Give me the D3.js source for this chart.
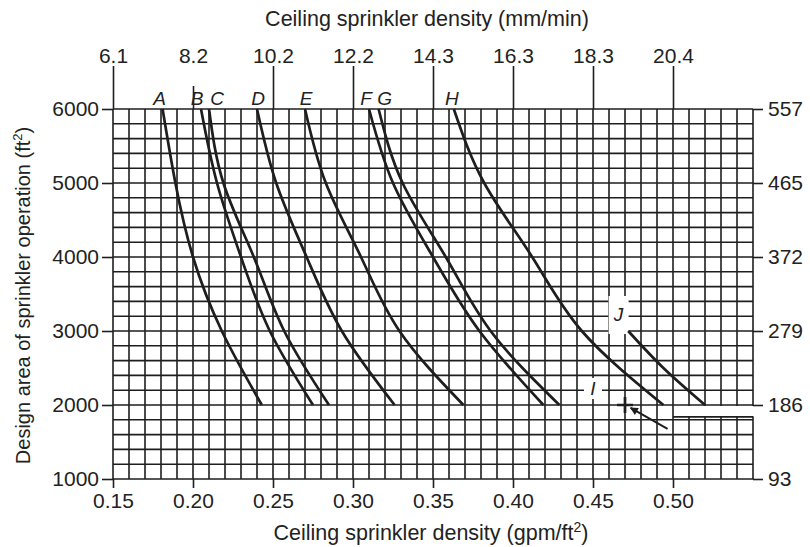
<!DOCTYPE html>
<html>
<head>
<meta charset="utf-8">
<script src="https://cdn.jsdelivr.net/npm/d3@7"></script>
<style>
  body { margin: 0; background: #fff; }
  svg text { font-family: "Liberation Sans", Arial, sans-serif; fill: #222; }
</style>
</head>
<body>
<svg id="chart" width="810" height="547"></svg>
<script>
// values
const curveNames = ["A", "B", "C", "D", "E", "F", "G", "H"];
const areaLevels = [6000, 5000, 4000, 3000, 2000];
const densityA = [0.181, 0.189, 0.200, 0.218, 0.243];
const densityB = [0.205, 0.215, 0.230, 0.248, 0.275];
const densityC = [0.210, 0.219, 0.238, 0.257, 0.285];
const densityD = [0.240, 0.252, 0.271, 0.293, 0.326];
const densityE = [0.270, 0.283, 0.305, 0.329, 0.369];
const densityF = [0.310, 0.325, 0.350, 0.379, 0.419];
const densityG = [0.316, 0.331, 0.358, 0.386, 0.429];
const densityH = [0.363, 0.382, 0.412, 0.443, 0.494];
const areaJ = [3000, 2500, 2000];
const densityJ = [0.472, 0.494, 0.520];
const pointI = [0.47, 2000];

const gpmTicks = [0.15, 0.20, 0.25, 0.30, 0.35, 0.40, 0.45, 0.50];
const gpmLabels = ["0.15", "0.20", "0.25", "0.30", "0.35", "0.40", "0.45", "0.50"];
const mmLabels = ["6.1", "8.2", "10.2", "12.2", "14.3", "16.3", "18.3", "20.4"];
const areaTicks = [1000, 2000, 3000, 4000, 5000, 6000];
const m2Labels = ["93", "186", "279", "372", "465", "557"];

const densities = [densityA, densityB, densityC, densityD, densityE, densityF, densityG, densityH];

const svg = d3.select("#chart");
const ink = "#1e1e1e";
const tickFont = 21;

const x = d3.scaleLinear().domain([0.15, 0.55]).range([113, 753]);
const y = d3.scaleLinear().domain([1000, 6000]).range([479, 109]);

// grid
const grid = svg.append("g");
grid.selectAll("line.v")
  .data(d3.range(15, 56).map(d => d / 100))
  .enter().append("line")
  .attr("x1", d => x(d)).attr("x2", d => x(d))
  .attr("y1", y(6000)).attr("y2", y(1000))
  .attr("stroke", ink).attr("stroke-width", 1.6);
grid.selectAll("line.h")
  .data(d3.range(1000, 6001, 200))
  .enter().append("line")
  .attr("x1", x(0.15)).attr("x2", x(0.55))
  .attr("y1", d => y(d)).attr("y2", d => y(d))
  .attr("stroke", ink).attr("stroke-width", 1.6);

// patched strip at the lower right of the original figure
grid.append("rect")
  .attr("x", x(0.50) + 1).attr("y", y(2000) + 1)
  .attr("width", x(0.55) - x(0.50) + 2).attr("height", y(1840) - y(2000) - 1.5)
  .attr("fill", "#fff");
grid.append("line")
  .attr("x1", x(0.50)).attr("x2", x(0.55))
  .attr("y1", y(1840)).attr("y2", y(1840))
  .attr("stroke", ink).attr("stroke-width", 1.6);

// white boxes behind the I and J labels
grid.append("rect").attr("x", x(0.466) - 10).attr("y", y(3230) - 18)
  .attr("width", 20).attr("height", 38).attr("fill", "#fff");
grid.append("rect").attr("x", x(0.45) - 9).attr("y", y(2230) - 10)
  .attr("width", 18).attr("height", 21).attr("fill", "#fff");

// axes
function styleAxis(g) {
  g.select(".domain").remove();
  g.selectAll(".tick line").attr("stroke", ink).attr("stroke-width", 1.6);
  g.selectAll(".tick text").attr("font-size", tickFont).attr("fill", "#222")
    .attr("font-family", "'Liberation Sans', Arial, sans-serif");
}

svg.append("g")
  .attr("transform", `translate(${x(0.15)},0)`)
  .call(d3.axisLeft(y).tickValues(areaTicks).tickSize(11).tickPadding(3).tickFormat(d3.format("d")))
  .call(styleAxis);

svg.append("g")
  .attr("transform", `translate(${x(0.55)},0)`)
  .call(d3.axisRight(y).tickValues(areaTicks).tickSize(10).tickPadding(5)
    .tickFormat((d, i) => m2Labels[i]))
  .call(styleAxis);

svg.append("g")
  .attr("transform", `translate(0,${y(1000)})`)
  .call(d3.axisBottom(x).tickValues(gpmTicks).tickSize(9).tickPadding(5)
    .tickFormat((d, i) => gpmLabels[i]))
  .call(styleAxis);

const topAxis = svg.append("g")
  .attr("transform", `translate(0,${y(6000)})`)
  .call(d3.axisTop(x).tickValues(gpmTicks).tickSize(43).tickPadding(3)
    .tickFormat((d, i) => mmLabels[i]))
  .call(styleAxis);
// the 8.2 tick stops short above the B label
topAxis.selectAll(".tick line").filter((d, i) => i === 1).attr("y2", -23);

// axis titles
svg.append("text")
  .attr("x", 427).attr("y", 26)
  .attr("text-anchor", "middle").attr("font-size", 21.5)
  .text("Ceiling sprinkler density (mm/min)");

const bt = svg.append("text")
  .attr("x", 431).attr("y", 540)
  .attr("text-anchor", "middle").attr("font-size", 21.5)
  .text("Ceiling sprinkler density (gpm/ft");
bt.append("tspan").attr("dy", -8).attr("font-size", 14).text("2");
bt.append("tspan").attr("dy", 8).text(")");

const lt = svg.append("text")
  .attr("transform", `translate(30,${y(3480)}) rotate(-90)`)
  .attr("text-anchor", "middle").attr("font-size", 20)
  .text("Design area of sprinkler operation (ft");
lt.append("tspan").attr("dy", -8).attr("font-size", 13).text("2");
lt.append("tspan").attr("dy", 8).text(")");

// curves
const line = d3.line()
  .x(d => x(d[0])).y(d => y(d[1]))
  .curve(d3.curveNatural);

svg.append("g").selectAll("path")
  .data(densities.map(ds => ds.map((v, i) => [v, areaLevels[i]])))
  .enter().append("path")
  .attr("d", line)
  .attr("fill", "none").attr("stroke", ink).attr("stroke-width", 2.7);

svg.append("path")
  .attr("d", line(densityJ.map((v, i) => [v, areaJ[i]])))
  .attr("fill", "none").attr("stroke", ink).attr("stroke-width", 2.7);

// curve letters above the grid
const labelShift = { A: -3, B: -4, C: 8, D: 1, E: 1, F: -3, G: 6, H: -2 };
svg.append("g").selectAll("text")
  .data(curveNames)
  .enter().append("text")
  .attr("x", (d, i) => x(densities[i][0]) + labelShift[d])
  .attr("y", y(6000) - 4)
  .attr("text-anchor", "middle")
  .attr("font-size", 19).attr("font-style", "italic")
  .text(d => d);

svg.append("text")
  .attr("x", x(0.466)).attr("y", y(3230) + 7)
  .attr("text-anchor", "middle").attr("font-size", 19).attr("font-style", "italic")
  .text("J");
svg.append("text")
  .attr("x", x(0.45)).attr("y", y(2230) + 7)
  .attr("text-anchor", "middle").attr("font-size", 19).attr("font-style", "italic")
  .text("I");

// point I with its pointer
const px = x(pointI[0]), py = y(pointI[1]);
svg.append("path")
  .attr("d", `M${px - 8},${py}H${px + 8}M${px},${py - 8}V${py + 8}`)
  .attr("stroke", ink).attr("stroke-width", 2.7);

svg.append("defs").append("marker")
  .attr("id", "arrow").attr("viewBox", "0 0 10 10")
  .attr("refX", 9).attr("refY", 5)
  .attr("markerWidth", 5).attr("markerHeight", 4)
  .attr("orient", "auto")
  .append("path").attr("d", "M0,0L10,5L0,10z").attr("fill", ink);

svg.append("line")
  .attr("x1", x(0.4966)).attr("y1", y(1676))
  .attr("x2", x(0.4735)).attr("y2", y(1960))
  .attr("stroke", ink).attr("stroke-width", 2)
  .attr("marker-end", "url(#arrow)");
</script>
</body>
</html>
